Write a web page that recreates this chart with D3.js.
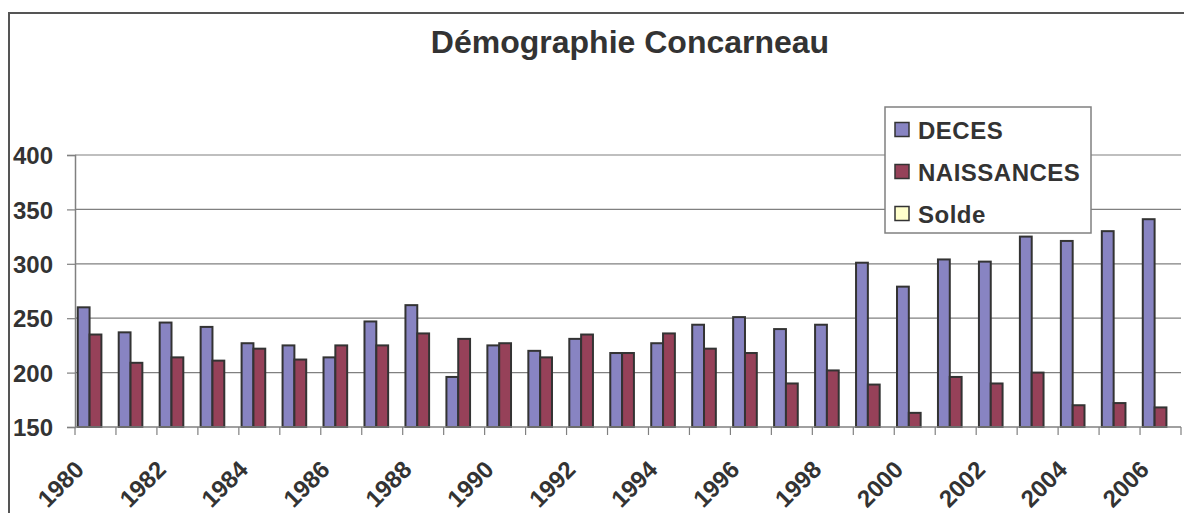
<!DOCTYPE html>
<html>
<head>
<meta charset="utf-8">
<script src="https://cdnjs.cloudflare.com/ajax/libs/d3/7.8.5/d3.min.js"></script>
<style>
  html, body { margin: 0; padding: 0; background: #fff; }
  svg { display: block; }
  text { font-family: "Liberation Sans", Arial, sans-serif; font-weight: bold; fill: #333; }
</style>
</head>
<body>
<svg id="chart" width="1184" height="513"></svg>
<script>
const title = "Démographie Concarneau";
const years = d3.range(1980, 2007).map(String);
const seriesNames = ["DECES", "NAISSANCES", "Solde"];
const deces = [260, 237, 246, 242, 227, 225, 214, 247, 262, 196, 225, 220, 231, 218, 227, 244, 251, 240, 244, 301, 279, 304, 302, 325, 321, 330, 341];
const naissances = [235, 209, 214, 211, 222, 212, 225, 225, 236, 231, 227, 214, 235, 218, 236, 222, 218, 190, 202, 189, 163, 196, 190, 200, 170, 172, 168];
const yTicks = [150, 200, 250, 300, 350, 400];
const xLabels = years.filter((d, i) => i % 2 === 0);
const colors = ["#8884c2", "#964159", "#ffffcc"];

const svg = d3.select("#chart");
const m = { left: 75, right: 1181, top: 155, bottom: 427 };

// outer chart border
svg.append("path")
  .attr("d", "M9,600 L9,13 L1200,13")
  .attr("fill", "none").attr("stroke", "#555").attr("stroke-width", 2);

const x = d3.scaleBand().domain(years).range([m.left, m.right]).paddingInner(0).paddingOuter(0);
const inner = d3.scaleBand().domain(seriesNames).range([0, x.bandwidth()]).paddingInner(0).paddingOuter(0.2325);
const y = d3.scaleLinear().domain([150, 400]).range([m.bottom, m.top]);

// gridlines
svg.append("g").selectAll("line").data(yTicks.slice(1)).join("line")
  .attr("x1", m.left).attr("x2", m.right)
  .attr("y1", d => y(d)).attr("y2", d => y(d))
  .attr("stroke", "#808080").attr("stroke-width", 1.2);

// y axis
const yAxis = svg.append("g").attr("transform", `translate(${m.left},0)`)
  .call(d3.axisLeft(y).tickValues(yTicks).tickSize(8).tickPadding(14));
yAxis.select(".domain").attr("stroke", "#808080").attr("stroke-width", 1.5);
yAxis.selectAll(".tick line").attr("stroke", "#808080").attr("stroke-width", 1.2);
yAxis.selectAll(".tick text").attr("font-size", 24).attr("font-family", "Liberation Sans, Arial, sans-serif")
  .attr("font-weight", "bold").attr("fill", "#333").attr("dy", "0.36em");

// bars
const data = years.map((yr, i) => ({ year: yr, values: [deces[i], naissances[i]] }));
const groups = svg.append("g").selectAll("g").data(data).join("g")
  .attr("transform", d => `translate(${x(d.year)},0)`);
groups.selectAll("rect").data(d => d.values.map((v, k) => ({ name: seriesNames[k], v, k }))).join("rect")
  .attr("x", d => inner(d.name))
  .attr("width", inner.bandwidth())
  .attr("y", d => y(d.v))
  .attr("height", d => y(150) - y(d.v))
  .attr("fill", d => colors[d.k])
  .attr("stroke", "#333").attr("stroke-width", 2);

// x axis
const xAxis = svg.append("g").attr("transform", `translate(0,${m.bottom})`);
xAxis.append("line").attr("x1", m.left).attr("x2", m.right).attr("y1", 0).attr("y2", 0)
  .attr("stroke", "#808080").attr("stroke-width", 1.5);
xAxis.selectAll("line.tk").data(years.concat(["end"])).join("line").attr("class", "tk")
  .attr("x1", (d, i) => m.left + i * x.step()).attr("x2", (d, i) => m.left + i * x.step())
  .attr("y1", 0).attr("y2", 8).attr("stroke", "#808080").attr("stroke-width", 1.2);
xAxis.selectAll("text").data(xLabels).join("text")
  .attr("transform", d => `translate(${x(d) + x.bandwidth() / 2 - 10},44) rotate(-45)`)
  .attr("text-anchor", "end")
  .attr("font-size", 24)
  .text(d => d);

// title
svg.append("text").attr("x", 630).attr("y", 53).attr("text-anchor", "middle")
  .attr("font-size", 32).text(title);

// legend
const lg = svg.append("g");
lg.append("rect").attr("x", 885).attr("y", 107).attr("width", 206).attr("height", 126)
  .attr("fill", "#fff").attr("stroke", "#808080").attr("stroke-width", 1.5);
const items = lg.selectAll("g.item").data(seriesNames).join("g").attr("class", "item")
  .attr("transform", (d, i) => `translate(895,${129.5 + i * 42})`);
items.append("rect").attr("x", 0).attr("y", -7).attr("width", 14).attr("height", 14)
  .attr("fill", (d, i) => colors[i]).attr("stroke", "#333").attr("stroke-width", 1.5);
items.append("text").attr("x", 23).attr("y", 9).attr("font-size", 24).attr("letter-spacing", 0.5).text(d => d);
</script>
</body>
</html>
